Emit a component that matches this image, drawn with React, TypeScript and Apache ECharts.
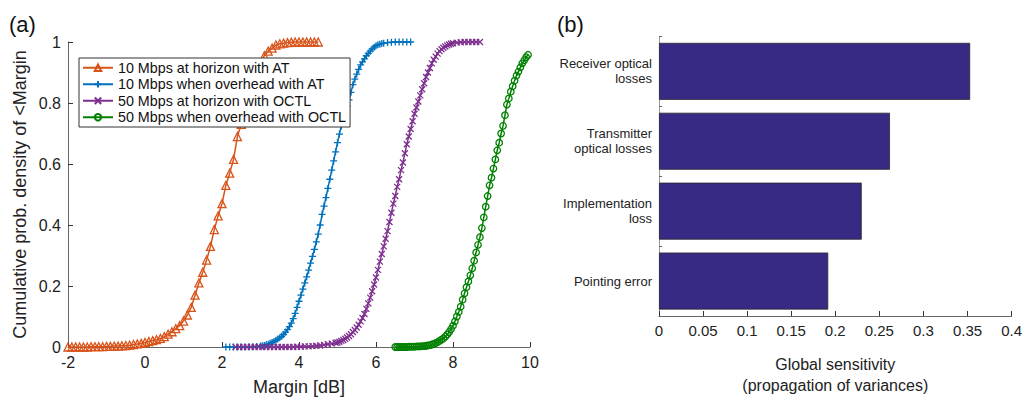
import React, { useEffect, useRef } from "react";
import * as echarts from "echarts";

// ---- Panel (a): CDF curves, [margin dB, cumulative probability] ----
const seriesNames = [
  "10 Mbps at horizon with AT",
  "10 Mbps when overhead with AT",
  "50 Mbps at horizon with OCTL",
  "50 Mbps when overhead with OCTL",
];

const horizonAT: [number, number][] = [
  [-2, 0], [-1.9, 0], [-1.8, 0], [-1.7, 0], [-1.6, 0], [-1.5, 0], [-1.4, 0.001], [-1.3, 0.001],
  [-1.2, 0.001], [-1.1, 0.001], [-1, 0.002], [-0.9, 0.002], [-0.8, 0.003], [-0.7, 0.003],
  [-0.6, 0.004], [-0.5, 0.005], [-0.4, 0.006], [-0.3, 0.008], [-0.2, 0.01], [-0.1, 0.012],
  [0, 0.015], [0.1, 0.018], [0.2, 0.021], [0.3, 0.024], [0.4, 0.028], [0.5, 0.034], [0.6, 0.042],
  [0.7, 0.05], [0.8, 0.06], [0.9, 0.07], [1, 0.085], [1.1, 0.105], [1.2, 0.13], [1.3, 0.17],
  [1.4, 0.21], [1.5, 0.245], [1.6, 0.285], [1.7, 0.33], [1.8, 0.385], [1.9, 0.43], [2, 0.47],
  [2.1, 0.53], [2.2, 0.57], [2.3, 0.615], [2.4, 0.69], [2.5, 0.73], [2.6, 0.77], [2.7, 0.81],
  [2.8, 0.85], [2.9, 0.89], [3, 0.93], [3.1, 0.955], [3.2, 0.97], [3.3, 0.98], [3.4, 0.99],
  [3.5, 0.994], [3.6, 0.996], [3.7, 0.998], [3.8, 0.999], [3.9, 1], [4, 1], [4.1, 1], [4.2, 1],
  [4.3, 1], [4.4, 1], [4.5, 1],
];

const overheadAT: [number, number][] = [
  [2.1, 0], [2.2, 0], [2.3, 0], [2.4, 0], [2.5, 0], [2.6, 0], [2.7, 0.001], [2.8, 0.001],
  [2.9, 0.002], [3, 0.003], [3.05, 0.004], [3.1, 0.005], [3.15, 0.007], [3.2, 0.009],
  [3.25, 0.012], [3.3, 0.015], [3.35, 0.018], [3.4, 0.022], [3.45, 0.026], [3.5, 0.03],
  [3.55, 0.035], [3.6, 0.041], [3.65, 0.049], [3.7, 0.057], [3.75, 0.067], [3.8, 0.078],
  [3.85, 0.093], [3.9, 0.11], [3.95, 0.13], [4, 0.15], [4.05, 0.17], [4.1, 0.19], [4.15, 0.21],
  [4.2, 0.23], [4.25, 0.252], [4.3, 0.275], [4.35, 0.297], [4.4, 0.32], [4.45, 0.345],
  [4.5, 0.37], [4.55, 0.4], [4.6, 0.435], [4.65, 0.462], [4.7, 0.49], [4.75, 0.52], [4.8, 0.55],
  [4.85, 0.58], [4.9, 0.61], [4.95, 0.64], [5, 0.67], [5.05, 0.698], [5.1, 0.725], [5.15, 0.748],
  [5.2, 0.77], [5.25, 0.79], [5.3, 0.81], [5.35, 0.835], [5.4, 0.86], [5.45, 0.878], [5.5, 0.895],
  [5.55, 0.91], [5.6, 0.925], [5.65, 0.935], [5.7, 0.945], [5.75, 0.955], [5.8, 0.963],
  [5.85, 0.97], [5.9, 0.977], [5.95, 0.983], [6, 0.988], [6.05, 0.991], [6.1, 0.993],
  [6.15, 0.995], [6.2, 0.996], [6.3, 0.998], [6.4, 0.999], [6.5, 1], [6.6, 1], [6.7, 1],
  [6.8, 1], [6.9, 1],
];

const horizonOCTL: [number, number][] = [
  [2.35, 0], [2.45, 0], [2.55, 0], [2.65, 0], [2.75, 0], [2.85, 0], [2.95, 0], [3.05, 0],
  [3.15, 0], [3.25, 0], [3.35, 0], [3.45, 0], [3.55, 0], [3.65, 0], [3.75, 0], [3.85, 0],
  [3.95, 0.001], [4.05, 0.001], [4.15, 0.002], [4.25, 0.002], [4.35, 0.003], [4.45, 0.004],
  [4.55, 0.005], [4.65, 0.007], [4.75, 0.009], [4.85, 0.011], [4.95, 0.014], [5, 0.015],
  [5.05, 0.017], [5.1, 0.02], [5.15, 0.023], [5.2, 0.027], [5.25, 0.031], [5.3, 0.036],
  [5.35, 0.042], [5.4, 0.049], [5.45, 0.056], [5.5, 0.064], [5.55, 0.073], [5.6, 0.084],
  [5.65, 0.095], [5.7, 0.108], [5.75, 0.125], [5.8, 0.143], [5.85, 0.162], [5.9, 0.183],
  [5.95, 0.205], [6, 0.228], [6.05, 0.253], [6.1, 0.28], [6.15, 0.305], [6.2, 0.33],
  [6.25, 0.355], [6.3, 0.38], [6.35, 0.41], [6.4, 0.44], [6.45, 0.47], [6.5, 0.495],
  [6.55, 0.525], [6.6, 0.55], [6.65, 0.58], [6.7, 0.605], [6.75, 0.635], [6.8, 0.665],
  [6.85, 0.69], [6.9, 0.715], [6.95, 0.74], [7, 0.765], [7.05, 0.785], [7.1, 0.805],
  [7.15, 0.825], [7.2, 0.845], [7.25, 0.865], [7.3, 0.885], [7.35, 0.9], [7.4, 0.915],
  [7.45, 0.93], [7.5, 0.942], [7.55, 0.952], [7.6, 0.962], [7.65, 0.97], [7.7, 0.976],
  [7.75, 0.981], [7.8, 0.985], [7.85, 0.989], [7.9, 0.992], [7.95, 0.994], [8, 0.996],
  [8.1, 0.998], [8.2, 0.999], [8.3, 1], [8.4, 1], [8.5, 1], [8.6, 1], [8.7, 1],
];

const overheadOCTL: [number, number][] = [
  [6.5, 0], [6.55, 0], [6.6, 0], [6.65, 0], [6.7, 0], [6.75, 0], [6.8, 0], [6.85, 0.001],
  [6.9, 0.001], [6.95, 0.001], [7, 0.001], [7.05, 0.002], [7.1, 0.002], [7.15, 0.002],
  [7.2, 0.003], [7.25, 0.003], [7.3, 0.004], [7.35, 0.005], [7.4, 0.006], [7.45, 0.008],
  [7.5, 0.01], [7.55, 0.013], [7.6, 0.016], [7.65, 0.02], [7.7, 0.024], [7.75, 0.028],
  [7.8, 0.034], [7.85, 0.041], [7.9, 0.049], [7.95, 0.059], [8, 0.07], [8.05, 0.084],
  [8.1, 0.1], [8.15, 0.115], [8.2, 0.132], [8.25, 0.155], [8.3, 0.176], [8.35, 0.196],
  [8.4, 0.215], [8.45, 0.235], [8.5, 0.258], [8.55, 0.283], [8.6, 0.31], [8.65, 0.335],
  [8.7, 0.36], [8.75, 0.39], [8.8, 0.425], [8.85, 0.46], [8.9, 0.495], [8.95, 0.53],
  [9, 0.555], [9.05, 0.585], [9.1, 0.615], [9.15, 0.645], [9.2, 0.67], [9.25, 0.7],
  [9.3, 0.725], [9.35, 0.76], [9.4, 0.795], [9.45, 0.815], [9.5, 0.837], [9.55, 0.855],
  [9.6, 0.873], [9.65, 0.89], [9.7, 0.903], [9.75, 0.917], [9.8, 0.93], [9.85, 0.94],
  [9.9, 0.95], [9.95, 0.958],
];

// ---- Panel (b): global sensitivity ----
const sensitivityCategories = [
  "Receiver optical\nlosses",
  "Transmitter\noptical losses",
  "Implementation\nloss",
  "Pointing error",
];
const sensitivityValues = [0.353, 0.262, 0.23, 0.192];

const xTicksA = { min: -2, max: 10, interval: 2 };
const yTicksA = { min: 0, max: 1, interval: 0.2 };
const xTicksB = { min: 0, max: 0.4, interval: 0.05 };

const FONT = "'Liberation Sans', Arial, Helvetica, sans-serif";
const AXIS_GRAY = "#666";
const TEXT = "#222";

const colors = ["#D95319", "#0072BD", "#7E2F8E", "#008000"];
const symbols = [
  "triangle",
  "path://M0,5L10,5M5,0L5,10",
  "path://M0,0L10,10M10,0L0,10",
  "circle",
];
const symbolSizes = [8, 7, 6, 6.5];
const curveData = [horizonAT, overheadAT, horizonOCTL, overheadOCTL];

export default function App() {
  const ref = useRef<HTMLDivElement>(null);

  useEffect(() => {
    if (!ref.current) return;
    const chart = echarts.init(ref.current, undefined, { renderer: "svg" });

    const lineSeries = curveData.map((d, i) => ({
      name: seriesNames[i],
      type: "line",
      xAxisIndex: 0,
      yAxisIndex: 0,
      data: d,
      symbol: symbols[i],
      symbolSize: symbolSizes[i],
      showAllSymbol: true,
      clip: false,
      lineStyle: { color: colors[i], width: 1.5 },
      itemStyle: { color: "rgba(255,255,255,0)", borderColor: colors[i], borderWidth: 1.3 },
      emphasis: { disabled: true },
      z: 2,
    }));

    const axisCommon = {
      axisLine: { show: true, onZero: false, lineStyle: { color: AXIS_GRAY, width: 1 } },
      axisTick: { show: true, inside: true, length: 5, lineStyle: { color: "#333" } },
      splitLine: { show: false },
    };

    chart.setOption({
      animation: false,
      textStyle: { fontFamily: FONT },
      grid: [
        { left: 68, top: 42, width: 462, height: 310 },
        { left: 659, top: 36.4, width: 357, height: 280.6 },
      ],
      legend: {
        data: seriesNames,
        orient: "vertical",
        left: 79,
        top: 58,
        padding: [2, 4, 2, 3],
        itemGap: 1,
        itemWidth: 30,
        itemHeight: 8,
        backgroundColor: "#fff",
        borderColor: "#333",
        borderWidth: 1,
        textStyle: { fontSize: 14.3, color: "#111", lineHeight: 15.5, fontFamily: FONT },
        z: 10,
      },
      xAxis: [
        {
          gridIndex: 0,
          type: "value",
          ...xTicksA,
          name: "Margin [dB]",
          nameLocation: "middle",
          nameGap: 31,
          nameTextStyle: { fontSize: 18, color: TEXT },
          axisLabel: { fontSize: 16, color: TEXT, margin: 7 },
          ...axisCommon,
        },
        {
          gridIndex: 1,
          type: "value",
          ...xTicksB,
          name: "Global sensitivity\n(propagation of variances)",
          nameLocation: "middle",
          nameGap: 38,
          nameTextStyle: { fontSize: 16, color: TEXT, lineHeight: 21, verticalAlign: "top" },
          axisLabel: { fontSize: 15, color: TEXT, margin: 7 },
          ...axisCommon,
        },
      ],
      yAxis: [
        {
          gridIndex: 0,
          type: "value",
          ...yTicksA,
          name: "Cumulative prob. density of <Margin",
          nameLocation: "middle",
          nameGap: 39,
          nameTextStyle: { fontSize: 18, color: TEXT },
          axisLabel: { fontSize: 16, color: TEXT, margin: 7 },
          ...axisCommon,
        },
        {
          gridIndex: 1,
          type: "category",
          inverse: true,
          data: sensitivityCategories,
          axisLine: { show: true, onZero: false, lineStyle: { color: "#999", width: 1 } },
          axisTick: { show: true, inside: true, length: 3, lineStyle: { color: "#666" } },
          axisLabel: { fontSize: 13, color: TEXT, margin: 7, lineHeight: 15, align: "right" },
          splitLine: { show: false },
        },
      ],
      graphic: [
        { type: "text", left: 9, top: 13, style: { text: "(a)", fontSize: 22, fill: "#111", fontFamily: FONT } },
        { type: "text", left: 557, top: 13, style: { text: "(b)", fontSize: 22, fill: "#111", fontFamily: FONT } },
      ],
      series: [
        ...lineSeries,
        {
          name: "Global sensitivity",
          type: "bar",
          xAxisIndex: 1,
          yAxisIndex: 1,
          data: sensitivityValues,
          barWidth: 57,
          itemStyle: { color: "#372a84", borderColor: "#2a2a2a", borderWidth: 0.8 },
          emphasis: { disabled: true },
        },
      ],
    });

    return () => chart.dispose();
  }, []);

  return (
    <div
      ref={ref}
      style={{ position: "absolute", left: 0, top: 0, width: 1025, height: 401 }}
    />
  );
}
